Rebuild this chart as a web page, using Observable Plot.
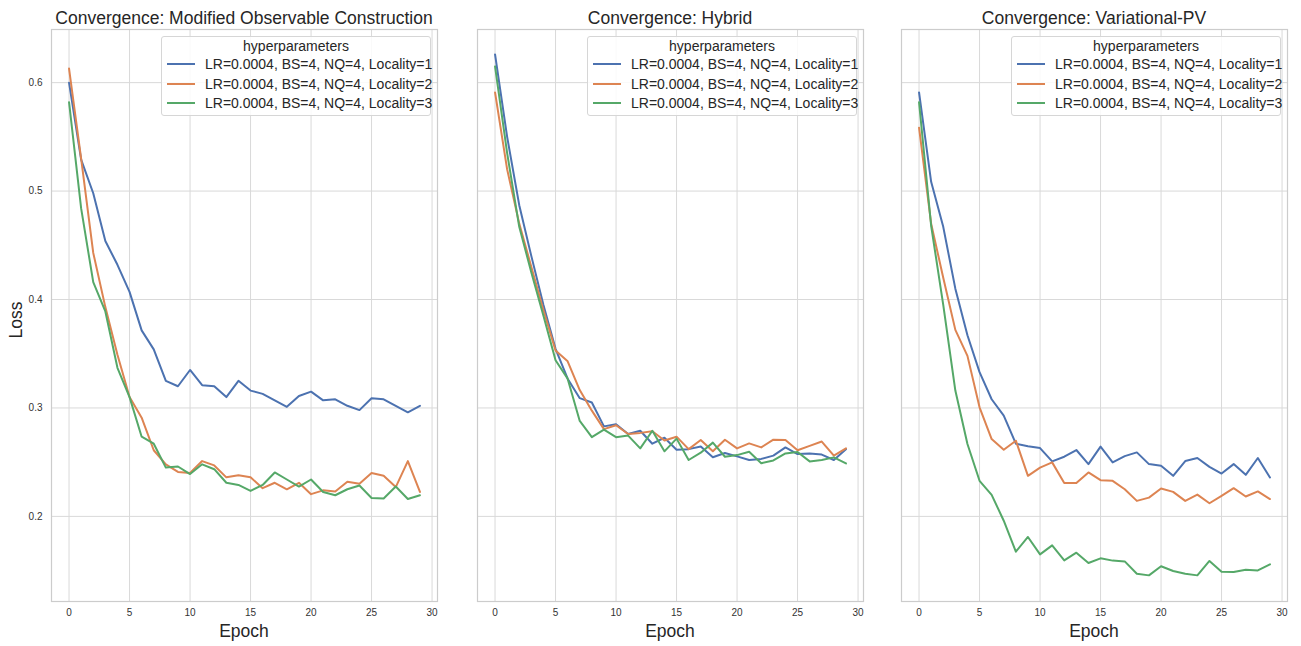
<!DOCTYPE html>
<html><head><meta charset="utf-8">
<script src="https://cdn.jsdelivr.net/npm/d3@7"></script>
<script src="https://cdn.jsdelivr.net/npm/@observablehq/plot@0.6"></script>
<style>
body{margin:0;background:#fff;font-family:"Liberation Sans",Arial,sans-serif;}
#root{position:relative;width:1301px;height:646px;overflow:hidden;background:#fff;}
.abs{position:absolute;}
.title{font-size:17.5px;color:#262626;white-space:nowrap;transform:translate(-50%,-50%);line-height:20px;}
.xlabel{font-size:17.5px;color:#262626;white-space:nowrap;transform:translate(-50%,-50%);line-height:20px;}
.ylabel{font-size:17.5px;color:#262626;white-space:nowrap;transform:translate(-50%,-50%) rotate(-90deg);line-height:20px;}
.legend{position:absolute;background:rgba(255,255,255,0.85);border:1px solid #d6d6d6;border-radius:3px;box-sizing:border-box;}
.legend .lt{position:absolute;left:0;right:0;text-align:center;font-size:14px;color:#262626;line-height:16px;}
.legend .sw{position:absolute;height:2px;width:28px;}
.legend .tx{position:absolute;font-size:14px;color:#262626;line-height:16px;white-space:nowrap;}
svg{position:absolute;top:0;}
</style></head><body><div id="root"></div>
<script>
const epochs = [0,1,2,3,4,5,6,7,8,9,10,11,12,13,14,15,16,17,18,19,20,21,22,23,24,25,26,27,28,29];
const series = ["LR=0.0004, BS=4, NQ=4, Locality=1","LR=0.0004, BS=4, NQ=4, Locality=2","LR=0.0004, BS=4, NQ=4, Locality=3"];
const colors = ["#4c72b0","#dd8452","#55a868"];
const titles = ["Convergence: Modified Observable Construction","Convergence: Hybrid","Convergence: Variational-PV"];
const xTicks = [0,5,10,15,20,25,30];
const yTicks = [0.2,0.3,0.4,0.5,0.6];
const legendTitle = "hyperparameters";

// Modified Observable Construction
const moc_loc1 = [0.600,0.529,0.498,0.454,0.432,0.407,0.3715,0.354,0.325,0.320,0.335,0.321,0.320,0.310,0.325,0.316,0.313,0.307,0.301,0.311,0.315,0.307,0.308,0.302,0.298,0.309,0.308,0.302,0.296,0.302];
const moc_loc2 = [0.613,0.530,0.443,0.393,0.349,0.310,0.291,0.261,0.248,0.241,0.240,0.251,0.247,0.236,0.238,0.236,0.226,0.231,0.225,0.231,0.2205,0.224,0.223,0.232,0.230,0.240,0.2375,0.227,0.251,0.2225];
const moc_loc3 = [0.582,0.484,0.416,0.389,0.337,0.310,0.2735,0.267,0.245,0.246,0.239,0.248,0.2435,0.231,0.229,0.2235,0.229,0.2405,0.234,0.2275,0.234,0.2225,0.2195,0.225,0.2285,0.217,0.2165,0.2275,0.216,0.2195];
// Hybrid
const hyb_loc1 = [0.626,0.550,0.487,0.440,0.395,0.3545,0.327,0.309,0.305,0.283,0.285,0.276,0.279,0.267,0.2725,0.2615,0.262,0.2645,0.2545,0.2585,0.2553,0.252,0.253,0.256,0.2636,0.2575,0.258,0.257,0.252,0.262];
const hyb_loc2 = [0.591,0.520,0.470,0.430,0.390,0.353,0.343,0.3165,0.2975,0.2805,0.284,0.276,0.277,0.2785,0.270,0.2735,0.262,0.2705,0.260,0.2707,0.2627,0.2673,0.2636,0.2707,0.2704,0.261,0.265,0.269,0.256,0.2627];
const hyb_loc3 = [0.615,0.535,0.467,0.425,0.385,0.344,0.327,0.288,0.273,0.280,0.273,0.2745,0.2627,0.279,0.260,0.2717,0.252,0.2587,0.268,0.255,0.2565,0.2596,0.249,0.2516,0.258,0.2593,0.2507,0.252,0.2544,0.2488];
// Variational-PV
const vpv_loc1 = [0.591,0.5085,0.467,0.410,0.367,0.333,0.308,0.293,0.267,0.2646,0.263,0.2507,0.255,0.2612,0.2482,0.2643,0.2498,0.2556,0.259,0.2482,0.2467,0.2374,0.251,0.2538,0.2457,0.2395,0.2482,0.2383,0.2538,0.2359];
const vpv_loc2 = [0.5585,0.470,0.420,0.372,0.348,0.3006,0.2713,0.2615,0.2698,0.2374,0.245,0.2498,0.2307,0.2307,0.2405,0.2334,0.2328,0.225,0.2143,0.2173,0.2257,0.2226,0.2143,0.2201,0.2121,0.2189,0.226,0.2183,0.223,0.216];
const vpv_loc3 = [0.582,0.468,0.395,0.316,0.2667,0.2328,0.2199,0.196,0.1674,0.181,0.165,0.1733,0.1594,0.1665,0.157,0.1613,0.1592,0.1585,0.1471,0.1456,0.154,0.1496,0.1471,0.1456,0.1589,0.149,0.1487,0.1508,0.1502,0.1558];

const panels = [[moc_loc1,moc_loc2,moc_loc3],[hyb_loc1,hyb_loc2,hyb_loc3],[vpv_loc1,vpv_loc2,vpv_loc3]];

const root = document.getElementById("root");
const frameLefts = [51, 477, 901];
const frameW = 386, frameTop = 29, frameBottom = 601, H = 646;
const yDomain = [0.1215, 0.649];
const xDomain = [-1.45, 30.45];

panels.forEach((arrs, i) => {
  const rows = [];
  arrs.forEach((arr, s) => arr.forEach((v, k) => rows.push({epoch: epochs[k], loss: v, series: series[s]})));
  const ml = i === 0 ? 51 : 12;
  const mr = 8;
  const svg = Plot.plot({
    width: ml + frameW + mr, height: H,
    marginLeft: ml, marginRight: mr, marginTop: frameTop, marginBottom: H - frameBottom,
    x: {domain: xDomain, axis: null},
    y: {domain: yDomain, axis: null},
    color: {domain: series, range: colors},
    style: {fontFamily: '"Liberation Sans", Arial, sans-serif', fontSize: "10px", color: "#262626", background: "transparent", overflow: "visible"},
    marks: [
      Plot.gridX(xTicks, {stroke: "#d9d9d9", strokeOpacity: 1, strokeWidth: 1}),
      Plot.gridY(yTicks, {stroke: "#d9d9d9", strokeOpacity: 1, strokeWidth: 1}),
      Plot.frame({stroke: "#cccccc", strokeWidth: 1.2}),
      Plot.axisX(xTicks, {tickSize: 0, tickPadding: 7, label: null, fontSize: 10, fill: "#333"}),
      i === 0 ? Plot.axisY(yTicks, {tickSize: 0, tickPadding: 9, label: null, fontSize: 10, fill: "#333", tickFormat: d => d.toFixed(1)}) : null,
      Plot.line(rows, {x: "epoch", y: "loss", z: "series", stroke: "series", strokeWidth: 2, strokeLinejoin: "round", strokeLinecap: "round"})
    ]
  });
  svg.style.left = (frameLefts[i] - ml) + "px";
  root.appendChild(svg);

  const cx = frameLefts[i] + frameW / 2;
  const t = document.createElement("div");
  t.className = "abs title"; t.textContent = titles[i];
  t.style.left = cx + "px"; t.style.top = "18px";
  root.appendChild(t);

  const xl = document.createElement("div");
  xl.className = "abs xlabel"; xl.textContent = "Epoch";
  xl.style.left = cx + "px"; xl.style.top = "631px";
  root.appendChild(xl);

  const lg = document.createElement("div");
  lg.className = "legend";
  lg.style.left = (frameLefts[i] + 110) + "px";
  lg.style.top = "36px";
  lg.style.width = "270px";
  lg.style.height = "80px";
  const lt = document.createElement("div");
  lt.className = "lt"; lt.textContent = legendTitle; lt.style.top = "1px";
  lg.appendChild(lt);
  series.forEach((s, k) => {
    const yc = 27 + k * 19.5;
    const sw = document.createElement("div");
    sw.className = "sw"; sw.style.background = colors[k];
    sw.style.left = "5px"; sw.style.top = (yc - 1) + "px";
    lg.appendChild(sw);
    const tx = document.createElement("div");
    tx.className = "tx"; tx.textContent = s;
    tx.style.left = "43px"; tx.style.top = (yc - 8) + "px";
    lg.appendChild(tx);
  });
  root.appendChild(lg);
});

const yl = document.createElement("div");
yl.className = "abs ylabel"; yl.textContent = "Loss";
yl.style.left = "16px"; yl.style.top = "320px";
root.appendChild(yl);
</script>
</body></html>
